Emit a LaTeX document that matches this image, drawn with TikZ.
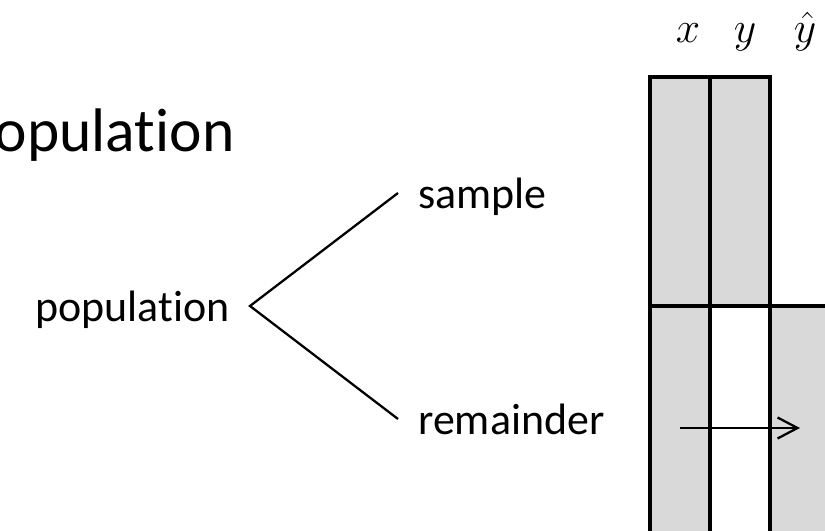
\documentclass[tikz,border=0pt]{standalone}
\usepackage{fontspec}
\setmainfont{Carlito}[Ligatures=NoCommon]
\usepackage{xcolor}
\usepackage{tikz}
\usetikzlibrary{positioning}
\usetikzlibrary{arrows.meta}
\definecolor{cellgray}{HTML}{D9D9D9}
\tikzstyle{leaf}    = [font=\fontsize{25}{30}\selectfont, text height=20pt, text depth=2pt, inner xsep=0.4cm, inner ysep=0pt]
\tikzstyle{branch}  = [draw, line width=1.3pt]
\tikzstyle{cell}    = [rectangle, draw, line width=2.8pt, fill=cellgray, minimum width=1.2cm, inner sep=0pt, outer sep=0pt]
\tikzstyle{colhead} = [font=\fontsize{33}{40}\selectfont, anchor=base, inner sep=0pt]
\tikzstyle{line}    = [draw, line width=1.3pt, -{Straight Barb[length=0.4cm, width=0.42cm]}]

\begin{document}
\begin{tikzpicture}[node distance=0pt]
    \useasboundingbox (0,0) rectangle (16.5,10.62);
    \node [anchor=base west, inner sep=0pt, font=\fontsize{35}{42}\selectfont] (title) at (-0.72,7.58) {Population};
    % split of the population
    \node [leaf, anchor=east] (population) at (5.0,4.5) {population};
    \node [leaf, right=2.96cm of population, yshift=2.26cm] (sample) {sample};
    \node [leaf, right=2.96cm of population, yshift=-2.26cm] (remainder) {remainder};
    \path [branch] (sample.west) -- (population.east) -- (remainder.west);
    % data columns
    \node [cell, minimum height=4.58cm, anchor=north west] (xtop) at (13.0,9.08) {};
    \node [cell, minimum height=4.58cm, right=of xtop] (ytop) {};
    \node [cell, minimum height=4.88cm, below=of xtop] (xbot) {};
    \node [cell, minimum height=4.88cm, right=of xbot, fill=white] (ybot) {};
    \node [cell, minimum height=4.88cm, right=of ybot] (yhbot) {};
    \node [colhead] (xhead) at ([xshift=0.16cm, yshift=0.68cm]xtop.north) {$x$};
    \node [colhead] (yhead) at ([xshift=0.1cm, yshift=0.68cm]ytop.north) {$y$};
    \node [colhead] (yhhead) at ([xshift=1.2cm]yhead.base) {$\hat{y}$};
    \path [line] (xbot.center) -- (yhbot.center);
\end{tikzpicture}
\end{document}
